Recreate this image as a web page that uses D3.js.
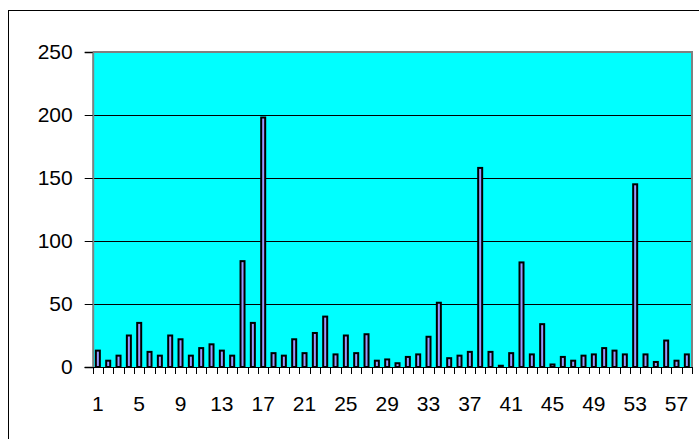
<!DOCTYPE html>
<html>
<head>
<meta charset="utf-8">
<script src="https://cdn.jsdelivr.net/npm/d3@7"></script>
<style>
  body { margin: 0; background: #fff; }
  svg { display: block; }
</style>
</head>
<body>
<div id="chart"></div>
<script>
const categories = d3.range(1, 59);
const values = [13, 5, 9, 25, 35, 12, 9, 25, 22, 9, 15, 18, 13, 9, 84, 35, 198, 11, 9, 22,
  11, 27, 40, 10, 25, 11, 26, 5, 6, 3, 8, 10, 24, 51, 7, 9, 12, 158, 12, 1,
  11, 83, 10, 34, 2, 8, 5, 9, 10, 15, 13, 10, 145, 10, 4, 21, 5, 10];
const yTicks = [0, 50, 100, 150, 200, 250];
const xLabels = categories.filter(d => (d - 1) % 4 === 0);

const width = 699, height = 439;
const plotLeft = 92.7, plotRight = 692, plotTop = 52, plotBottom = 367;

const svg = d3.select("#chart").append("svg")
    .attr("width", width)
    .attr("height", height)
    .attr("font-family", "Liberation Sans, Arial, sans-serif");

// outer chart border (right and bottom run off the page)
svg.append("rect")
    .attr("x", 8.5).attr("y", 10.5)
    .attr("width", 720).attr("height", 460)
    .attr("fill", "#fff")
    .attr("stroke", "#000");

const x = d3.scaleBand().domain(categories).range([plotLeft, plotRight]);
const y = d3.scaleLinear().domain([0, 250]).range([plotBottom, plotTop]);

// plot area
svg.append("rect")
    .attr("x", plotLeft).attr("y", plotTop)
    .attr("width", plotRight - plotLeft).attr("height", plotBottom - plotTop)
    .attr("fill", "#00ffff");

// gridlines
svg.append("g")
  .selectAll("line")
  .data(yTicks.filter(d => d > 0 && d < 250))
  .join("line")
    .attr("x1", plotLeft).attr("x2", plotRight)
    .attr("y1", d => Math.round(y(d)) + 0.5)
    .attr("y2", d => Math.round(y(d)) + 0.5)
    .attr("stroke", "#000");

// plot border: gray top and right
svg.append("path")
    .attr("d", `M${plotLeft},${plotTop}H${plotRight}V${plotBottom}`)
    .attr("fill", "none")
    .attr("stroke", "#808080")
    .attr("stroke-width", 2);

// bars
svg.append("g")
  .selectAll("rect")
  .data(values)
  .join("rect")
    .attr("x", (d, i) => x(categories[i]) + x.bandwidth() / 2 - 2)
    .attr("y", d => y(d))
    .attr("width", 4)
    .attr("height", d => plotBottom - y(d))
    .attr("fill", "#9999ff")
    .attr("stroke", "#000")
    .attr("stroke-width", 2);

// y axis
const yAxis = svg.append("g")
    .attr("transform", `translate(${plotLeft},0)`)
    .call(d3.axisLeft(y).tickValues(yTicks).tickSize(8).tickPadding(12));
yAxis.select(".domain").attr("stroke", "#808080").attr("stroke-width", 2);
yAxis.selectAll(".tick line").attr("stroke", "#000");
yAxis.selectAll(".tick text")
    .attr("font-size", 21)
    .attr("fill", "#000");

// x axis
const xAxis = svg.append("g")
    .attr("transform", `translate(0,${plotBottom})`);
xAxis.append("line")
    .attr("x1", plotLeft - 8).attr("x2", plotRight)
    .attr("y1", 0.5).attr("y2", 0.5)
    .attr("stroke", "#000");
xAxis.selectAll(".xtick")
  .data(categories.concat([59]))
  .join("line")
    .attr("class", "xtick")
    .attr("x1", d => Math.round(d === 59 ? plotRight : x(d)) + 0.5)
    .attr("x2", d => Math.round(d === 59 ? plotRight : x(d)) + 0.5)
    .attr("y1", 0).attr("y2", 7)
    .attr("stroke", "#000");
xAxis.selectAll(".xlabel")
  .data(xLabels)
  .join("text")
    .attr("class", "xlabel")
    .attr("x", d => x(d) + x.bandwidth() / 2)
    .attr("y", 43.5)
    .attr("text-anchor", "middle")
    .attr("font-size", 21)
    .text(d => d);
</script>
</body>
</html>
